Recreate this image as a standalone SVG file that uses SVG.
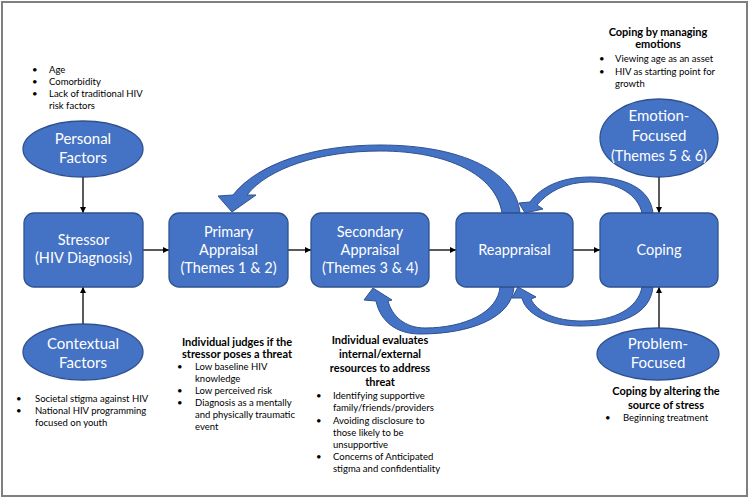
<svg xmlns="http://www.w3.org/2000/svg" width="750" height="499" viewBox="0 0 750 499">
<defs>
<marker id="ah" viewBox="0 0 10 10" refX="10" refY="5" markerWidth="6" markerHeight="6" orient="auto" markerUnits="userSpaceOnUse">
<path d="M0,0 L10,5 L0,10 Z" fill="#000"/>
</marker>
</defs>
<style>
.node{fill:#4472C4;stroke:#2F528F;stroke-width:1.3}
.big{fill:#4472C4;stroke:#2F528F;stroke-width:1}
.nt{font-family:Lato,"Liberation Sans",sans-serif;font-size:14.5px;fill:#fff;text-anchor:middle}
.et{font-family:Lato,"Liberation Sans",sans-serif;font-size:15px;fill:#fff;text-anchor:middle}
.conn{stroke:#000;stroke-width:1.3;fill:none;marker-end:url(#ah)}
.bt{font-family:Lato,"Liberation Sans",sans-serif;font-size:9.5px;fill:#000}
.hd{font-family:Lato,"Liberation Sans",sans-serif;font-size:11px;font-weight:bold;fill:#000;text-anchor:middle}
</style>
<rect x="2" y="2" width="745" height="494" fill="#fff" stroke="#7F7F7F" stroke-width="2"/>

<g id="connectors">
<line class="conn" x1="83" y1="177" x2="83" y2="213"/>
<line class="conn" x1="83" y1="325" x2="83" y2="287"/>
<line class="conn" x1="143" y1="250" x2="169" y2="250"/>
<line class="conn" x1="288" y1="250" x2="311" y2="250"/>
<line class="conn" x1="429" y1="250" x2="456" y2="250"/>
<line class="conn" x1="573" y1="250" x2="600" y2="250"/>
<line class="conn" x1="659" y1="177" x2="659" y2="213"/>
<line class="conn" x1="659" y1="328" x2="659" y2="287"/>
<path class="big" d="M 520 213 C 516 172, 462 145, 380 145 C 315 145, 258 163, 233 195 L 218 196 L 232 212 L 256 195 L 247 195 C 268 168, 320 151, 380 151 C 448 151, 496 175, 502 213 Z"/>
<path class="big" d="M 514 287 C 512 318, 470 334, 420 334 C 395 334, 380 320, 376 301 L 364 300 L 373 288 L 392 300 L 388 301 C 392 316, 405 328, 425 328 C 465 328, 498 312, 500 287 Z"/>
<path class="big" d="M 653 213 C 650 188, 625 177, 590 177 C 560 177, 540 188, 530 202 L 519 203 L 525 213 L 543 209 L 537 205 C 548 192, 565 182, 590 182 C 618 182, 638 195, 642 213 Z"/>
<path class="big" d="M 653 287 C 650 315, 620 326, 580 326 C 545 326, 525 312, 522 298 L 512 298 L 518 287 L 536 297 L 531 299 C 537 312, 555 321, 582 321 C 615 321, 638 308, 642 287 Z"/>
</g>

<g id="personal">
<ellipse class="node" cx="83" cy="149" rx="60" ry="28"/>
<text class="et" x="83" y="144">Personal</text>
<text class="et" x="83" y="163">Factors</text>
</g>
<g id="contextual">
<ellipse class="node" cx="83" cy="352" rx="60" ry="28"/>
<text class="et" x="83" y="349">Contextual</text>
<text class="et" x="83" y="368">Factors</text>
</g>
<g id="stressor">
<rect class="node" x="24" y="213" width="119" height="74" rx="10"/>
<text class="nt" x="83.5" y="245">Stressor</text>
<text class="nt" x="83.5" y="263">(HIV Diagnosis)</text>
</g>
<g id="primary">
<rect class="node" x="169" y="213" width="119" height="74" rx="10"/>
<text class="nt" x="228.5" y="237">Primary</text>
<text class="nt" x="228.5" y="255">Appraisal</text>
<text class="nt" x="228.5" y="273">(Themes 1 &amp; 2)</text>
</g>
<g id="secondary">
<rect class="node" x="311" y="213" width="118" height="74" rx="10"/>
<text class="nt" x="370" y="237">Secondary</text>
<text class="nt" x="370" y="255">Appraisal</text>
<text class="nt" x="370" y="273">(Themes 3 &amp; 4)</text>
</g>
<g id="reappraisal">
<rect class="node" x="456" y="213" width="117" height="74" rx="10"/>
<text class="nt" x="514.5" y="255">Reappraisal</text>
</g>
<g id="coping">
<rect class="node" x="600" y="213" width="118" height="74" rx="10"/>
<text class="nt" x="659" y="255">Coping</text>
</g>
<g id="emotion">
<ellipse class="node" cx="659" cy="138" rx="59" ry="39"/>
<text class="et" x="659" y="121">Emotion-</text>
<text class="et" x="659" y="141">Focused</text>
<text class="nt" x="659" y="161">(Themes 5 &amp; 6)</text>
</g>
<g id="problem">
<ellipse class="node" cx="658" cy="354" rx="61" ry="26"/>
<text class="et" x="658" y="349">Problem-</text>
<text class="et" x="658" y="368">Focused</text>
</g>

<g id="personal-notes">
<text class="bt" x="32" y="73">•</text><text class="bt" x="49" y="73">Age</text>
<text class="bt" x="32" y="85">•</text><text class="bt" x="49" y="85">Comorbidity</text>
<text class="bt" x="32" y="97">•</text><text class="bt" x="49" y="97">Lack of traditional HIV</text>
<text class="bt" x="49" y="109">risk factors</text>
</g>
<g id="contextual-notes">
<text class="bt" x="16" y="402">•</text><text class="bt" x="35" y="402">Societal stigma against HIV</text>
<text class="bt" x="16" y="414">•</text><text class="bt" x="35" y="414">National HIV programming</text>
<text class="bt" x="35" y="426">focused on youth</text>
</g>
<g id="primary-notes">
<text class="hd" x="237" y="346">Individual judges if the</text>
<text class="hd" x="237" y="358">stressor poses a threat</text>
<text class="bt" x="177" y="370">•</text><text class="bt" x="195" y="370">Low baseline HIV</text>
<text class="bt" x="195" y="382">knowledge</text>
<text class="bt" x="177" y="394">•</text><text class="bt" x="195" y="394">Low perceived risk</text>
<text class="bt" x="177" y="406">•</text><text class="bt" x="195" y="406">Diagnosis as a mentally</text>
<text class="bt" x="195" y="418">and physically traumatic</text>
<text class="bt" x="195" y="430">event</text>
</g>
<g id="secondary-notes">
<text class="hd" x="380" y="344">Individual evaluates</text>
<text class="hd" x="380" y="358">internal/external</text>
<text class="hd" x="380" y="372">resources to address</text>
<text class="hd" x="380" y="386">threat</text>
<text class="bt" x="316" y="399">•</text><text class="bt" x="333" y="399">Identifying supportive</text>
<text class="bt" x="333" y="411">family/friends/providers</text>
<text class="bt" x="316" y="424">•</text><text class="bt" x="333" y="424">Avoiding disclosure  to</text>
<text class="bt" x="333" y="436">those likely to be</text>
<text class="bt" x="333" y="448">unsupportive</text>
<text class="bt" x="316" y="460">•</text><text class="bt" x="333" y="460">Concerns of Anticipated</text>
<text class="bt" x="333" y="472">stigma and confidentiality</text>
</g>
<g id="emotion-notes">
<text class="hd" x="658" y="36">Coping by managing</text>
<text class="hd" x="658" y="48">emotions</text>
<text class="bt" x="599" y="62">•</text><text class="bt" x="615" y="62">Viewing age as an asset</text>
<text class="bt" x="599" y="75">•</text><text class="bt" x="615" y="75">HIV as starting point for</text>
<text class="bt" x="615" y="87">growth</text>
</g>
<g id="problem-notes">
<text class="hd" x="666" y="395">Coping by altering the</text>
<text class="hd" x="666" y="409">source of stress</text>
<text class="bt" x="605" y="421">•</text><text class="bt" x="623" y="421">Beginning treatment</text>
</g>
</svg>
